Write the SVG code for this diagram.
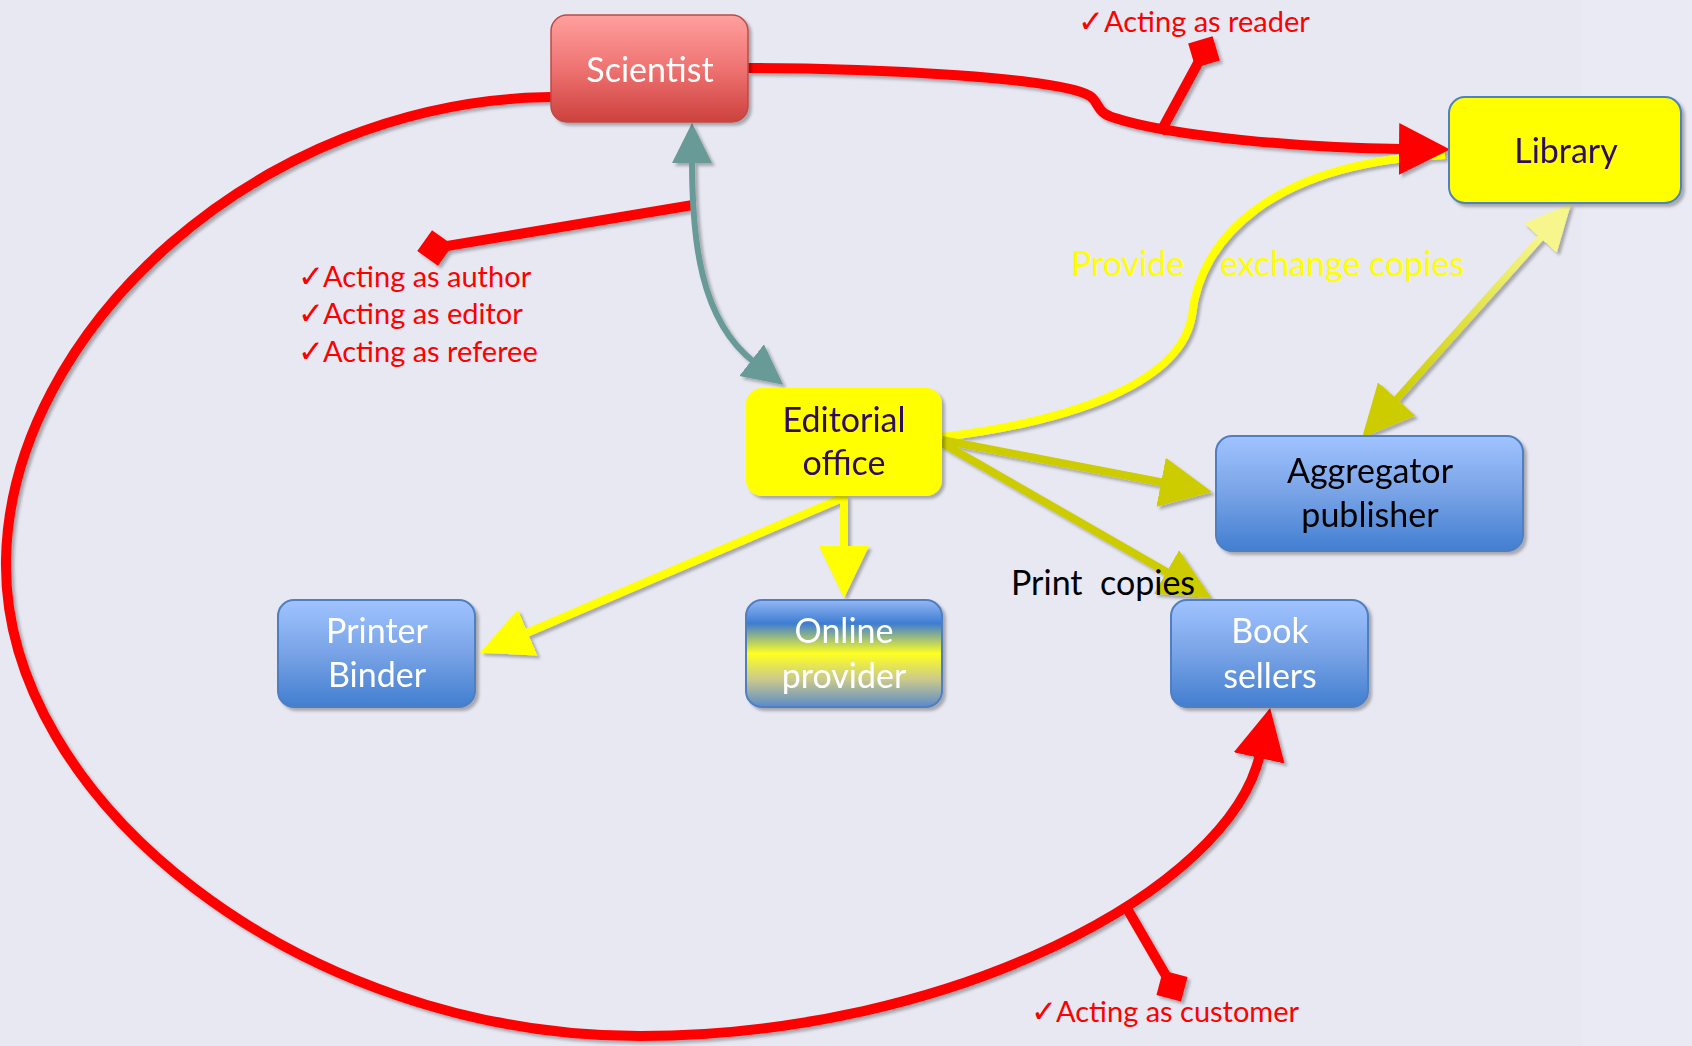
<svg xmlns="http://www.w3.org/2000/svg" width="1692" height="1046" viewBox="0 0 1692 1046">
<defs>
<style>
.lbl{font-family:Lato,"Noto Sans","Liberation Sans",sans-serif;}
.nt{font-family:Lato,"Noto Sans","Liberation Sans",sans-serif;font-size:34px;text-anchor:middle;}
.red{fill:#FF0000;font-size:29px;}
.chk{font-family:"DejaVu Sans",sans-serif;font-size:31px;}
.rl{fill:none;stroke:#FF0000;stroke-width:10;}
.yl{fill:none;stroke:#FFFF00;stroke-width:8;}
.ol{fill:none;stroke:#CCCC00;stroke-width:8;}
.bluebox{fill:url(#gBlue);stroke:#4F7FC0;stroke-width:2;}
</style>
<filter id="sh" x="-10%" y="-10%" width="120%" height="120%">
<feDropShadow dx="3" dy="3" stdDeviation="1.5" flood-color="#000" flood-opacity="0.28"/>
</filter>
<linearGradient id="gRed" x1="0" y1="0" x2="0" y2="1">
<stop offset="0" stop-color="#FFA09E"/><stop offset="0.5" stop-color="#EE7371"/><stop offset="1" stop-color="#CD413E"/>
</linearGradient>
<linearGradient id="gBlue" x1="0" y1="0" x2="0" y2="1">
<stop offset="0" stop-color="#A0C3FF"/><stop offset="0.5" stop-color="#78A3E6"/><stop offset="1" stop-color="#427ED0"/>
</linearGradient>
<linearGradient id="gOnline" x1="0" y1="0" x2="0" y2="1">
<stop offset="0" stop-color="#93B8F5"/><stop offset="0.22" stop-color="#3E7DD2"/><stop offset="0.5" stop-color="#FFFF22"/><stop offset="0.75" stop-color="#C8C88E"/><stop offset="1" stop-color="#5A8ACB"/>
</linearGradient>
<linearGradient id="gLA" gradientUnits="userSpaceOnUse" x1="1543" y1="235" x2="1394" y2="402">
<stop offset="0" stop-color="#F6F68C"/><stop offset="1" stop-color="#CCCC00"/>
</linearGradient>
<marker id="aRed" markerUnits="userSpaceOnUse" markerWidth="52" markerHeight="54" viewBox="0 0 52 54" refX="4" refY="27" orient="auto">
<path d="M0,1 L51,27 L0,53 z" fill="#FF0000"/>
</marker>
<marker id="dRed" markerUnits="userSpaceOnUse" markerWidth="40" markerHeight="40" viewBox="-20 -20 40 40" refX="0" refY="0" orient="auto">
<path d="M-18,0 L0,-18 L18,0 L0,18 z" fill="#FF0000"/>
</marker>
<marker id="aTeal" markerUnits="userSpaceOnUse" markerWidth="42" markerHeight="44" viewBox="0 0 42 44" refX="3" refY="22" orient="auto-start-reverse">
<path d="M0,2 L40,22 L0,42 z" fill="#689A98"/>
</marker>
<marker id="aYel" markerUnits="userSpaceOnUse" markerWidth="54" markerHeight="54" viewBox="0 0 54 54" refX="4" refY="27" orient="auto">
<path d="M0,2 L52,27 L0,52 z" fill="#FFFF00"/>
</marker>
<marker id="aOl" markerUnits="userSpaceOnUse" markerWidth="54" markerHeight="54" viewBox="0 0 54 54" refX="4" refY="27" orient="auto">
<path d="M0,2 L52,27 L0,52 z" fill="#CCCC00"/>
</marker>
<marker id="aPale" markerUnits="userSpaceOnUse" markerWidth="50" markerHeight="50" viewBox="0 0 50 50" refX="4" refY="25" orient="auto-start-reverse">
<path d="M0,3 L46,25 L0,47 z" fill="#F6F68C"/>
</marker>
</defs>
<rect width="1692" height="1046" fill="#E8E8F3"/>
<rect x="1582" y="0" width="110" height="1046" fill="#EAEAF5"/>

<g id="connectors" filter="url(#sh)">
<path class="yl" d="M942,437 C1080,420 1182,380 1192,315 C1200,240 1270,162 1445,155"/>
<path class="rl" d="M551,97 C260,100 10,330 6,560 C2,800 300,1036 640,1036 C950,1036 1230,890 1260,754" marker-end="url(#aRed)"/>
<path class="rl" d="M748,68 C880,68 1060,78 1090,96 C1100,103 1095,112 1115,118 C1170,136 1300,148 1403,149" marker-end="url(#aRed)"/>
<path class="rl" d="M1160,133 L1204,52" marker-end="url(#dRed)"/>
<path class="rl" d="M1125,905 L1172,986" marker-end="url(#dRed)"/>
<path class="rl" d="M693,205 L435,248" marker-end="url(#dRed)"/>
<path d="M692,160 C692,240 700,320 754,362" fill="none" stroke="#689A98" stroke-width="6" marker-start="url(#aTeal)" marker-end="url(#aTeal)"/>
<path class="yl" d="M842,498 L524,634" marker-end="url(#aYel)"/>
<path class="yl" d="M844,496 L844,550" marker-end="url(#aYel)"/>
<path class="ol" d="M942,440 L1165,483" marker-end="url(#aOl)"/>
<path class="ol" d="M942,443 L1170,574" marker-end="url(#aOl)"/>
<path d="M1543,235 L1394,402" fill="none" stroke="url(#gLA)" stroke-width="7" marker-start="url(#aPale)" marker-end="url(#aOl)"/>
</g>

<g id="scientist" filter="url(#sh)">
<rect x="551" y="15" width="197" height="107" rx="16" fill="url(#gRed)" stroke="#BC4A47" stroke-width="1.5"/>
<text class="nt" x="650" y="82" fill="#FFFFFF">Scientist</text>
</g>
<g id="library" filter="url(#sh)">
<rect x="1449" y="97" width="232" height="106" rx="16" fill="#FFFF00" stroke="#4F81BD" stroke-width="2"/>
<text class="nt" x="1566" y="163" fill="#2E0A5C">Library</text>
</g>
<g id="editorial-office" filter="url(#sh)">
<rect x="746" y="388" width="196" height="108" rx="16" fill="#FFFF00"/>
<text class="nt" x="844" y="432" fill="#2E0A5C">Editorial</text>
<text class="nt" x="844" y="475" fill="#2E0A5C">office</text>
</g>
<g id="aggregator-publisher" filter="url(#sh)">
<rect class="bluebox" x="1216" y="436" width="307" height="115" rx="16"/>
<text class="nt" x="1370" y="483" fill="#000000">Aggregator</text>
<text class="nt" x="1370" y="527" fill="#000000">publisher</text>
</g>
<g id="printer-binder" filter="url(#sh)">
<rect class="bluebox" x="278" y="600" width="197" height="107" rx="16"/>
<text class="nt" x="377" y="643" fill="#FFFFFF">Printer</text>
<text class="nt" x="377" y="687" fill="#FFFFFF">Binder</text>
</g>
<g id="online-provider" filter="url(#sh)">
<rect x="746" y="600" width="196" height="107" rx="16" fill="url(#gOnline)" stroke="#4F7FC0" stroke-width="2"/>
<text class="nt" x="844" y="643" fill="#FFFFFF">Online</text>
<text class="nt" x="844" y="688" fill="#FFFFFF">provider</text>
</g>
<g id="book-sellers" filter="url(#sh)">
<rect class="bluebox" x="1171" y="600" width="197" height="107" rx="16"/>
<text class="nt" x="1270" y="643" fill="#FFFFFF">Book</text>
<text class="nt" x="1270" y="688" fill="#FFFFFF">sellers</text>
</g>

<g id="labels">
<text class="lbl red" y="32"><tspan class="chk" x="1078">✓</tspan><tspan x="1104">Acting as reader</tspan></text>
<text class="lbl red" y="287"><tspan class="chk" x="298">✓</tspan><tspan x="323">Acting as author</tspan></text>
<text class="lbl red" y="324"><tspan class="chk" x="298">✓</tspan><tspan x="323">Acting as editor</tspan></text>
<text class="lbl red" y="362"><tspan class="chk" x="298">✓</tspan><tspan x="323">Acting as referee</tspan></text>
<text class="lbl red" y="1022"><tspan class="chk" x="1031">✓</tspan><tspan x="1056">Acting as customer</tspan></text>
<text class="lbl" x="1011" y="595" font-size="34" fill="#000000" xml:space="preserve">Print  copies</text>
<text class="lbl" y="276" font-size="34" fill="#FFFF00"><tspan x="1071">Provide</tspan><tspan x="1220">exchange copies</tspan></text>
</g>
</svg>
